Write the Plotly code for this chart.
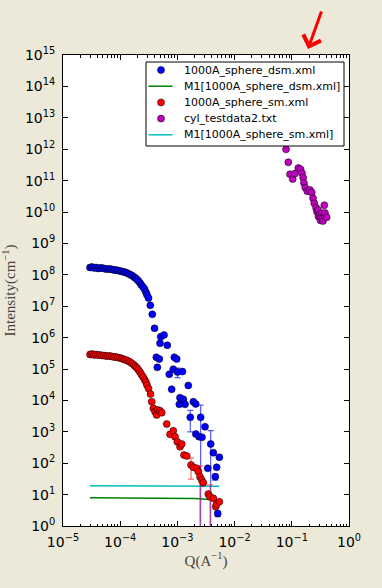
import plotly.graph_objects as go

# ---------------- data ----------------
# 1000A_sphere_dsm.xml
dsm_q = [2.96e-5, 3.21e-5, 3.48e-5, 3.78e-5, 4.10e-5, 4.44e-5, 4.81e-5, 5.21e-5, 5.65e-5, 6.13e-5,
         6.64e-5, 7.20e-5, 7.80e-5, 8.46e-5, 9.17e-5, 9.93e-5, 1.074e-4, 1.164e-4, 1.262e-4, 1.368e-4,
         1.483e-4, 1.607e-4, 1.742e-4, 1.849e-4, 1.968e-4, 2.09e-4, 2.22e-4, 2.35e-4, 2.51e-4, 2.66e-4,
         2.82e-4, 2.94e-4, 3.13e-4, 3.36e-4, 3.64e-4, 3.98e-4, 4.28e-4, 4.46e-4, 4.83e-4, 4.97e-4,
         5.11e-4, 5.84e-4, 6.65e-4, 7.21e-4, 7.94e-4, 8.47e-4, 8.83e-4, 9.73e-4, 1.005e-3, 1.08e-3,
         1.11e-3, 1.227e-3, 1.27e-3, 1.36e-3, 1.55e-3, 1.68e-3, 1.90e-3, 2.09e-3, 2.10e-3, 2.39e-3,
         2.55e-3, 2.69e-3, 3.04e-3, 3.39e-3, 3.82e-3, 4.25e-3, 4.60e-3, 4.86e-3, 5.07e-3, 5.41e-3]
dsm_i = [1.71e8, 1.77e8, 1.65e8, 1.71e8, 1.59e8, 1.65e8, 1.65e8, 1.59e8, 1.53e8, 1.53e8,
         1.53e8, 1.48e8, 1.42e8, 1.42e8, 1.37e8, 1.32e8, 1.27e8, 1.23e8, 1.18e8, 1.10e8,
         1.02e8, 9.5e7, 8.5e7, 7.9e7, 7.1e7, 6.35e7, 5.5e7, 4.7e7, 4.1e7, 3.5e7,
         2.8e7, 2.3e7, 1.82e7, 1.07e7, 5.5e6, 1.98e6, 2.36e5, 1.13e5, 2.08e5, 6.6e5,
         1.07e6, 1.21e6, 5.7e5, 6.8e4, 2.26e4, 9.8e4, 2.36e5, 2.08e5, 8.0e4, 7.5e3,
         1.22e4, 8.3e4, 1.08e4, 7.5e3, 3.0e4, 2.9e3, 9.1e3, 7.7e3, 8.5e2, 7.0e2,
         2.9e3, 6.7e2, 1.45e3, 69, 4.1e2, 2.16e2, 37, 74, 2.5, 1.54e2]
dsm_err = [0] * 48 + [2.7e4] + [0] * 6 + [1.9e3] + [0] * 4 + [4.2e3] + [0] * 3 + [6.8e2, 0, 8, 0, 0.5, 0]

# 1000A_sphere_sm.xml
sm_q = [2.96e-5, 3.21e-5, 3.48e-5, 3.78e-5, 4.10e-5, 4.44e-5, 4.81e-5, 5.21e-5, 5.65e-5, 6.13e-5,
        6.64e-5, 7.20e-5, 7.80e-5, 8.46e-5, 9.17e-5, 9.93e-5, 1.074e-4, 1.164e-4, 1.262e-4, 1.368e-4,
        1.483e-4, 1.607e-4, 1.742e-4, 1.849e-4, 1.968e-4, 2.09e-4, 2.22e-4, 2.35e-4, 2.51e-4, 2.66e-4,
        2.82e-4, 2.94e-4, 3.13e-4, 3.39e-4, 3.56e-4, 3.80e-4, 4.06e-4, 4.35e-4, 4.53e-4, 4.97e-4,
        5.32e-4, 6.50e-4, 7.43e-4, 8.47e-4, 9.08e-4, 9.96e-4, 1.11e-3, 1.19e-3, 1.30e-3, 1.46e-3,
        1.73e-3, 1.90e-3, 2.17e-3, 2.32e-3, 2.48e-3, 2.66e-3, 2.84e-3, 3.47e-3, 3.72e-3, 4.25e-3,
        4.68e-3, 4.86e-3, 5.41e-3]
sm_i = [2.90e5, 3.00e5, 2.79e5, 2.90e5, 2.79e5, 2.79e5, 2.69e5, 2.69e5, 2.59e5, 2.59e5,
        2.59e5, 2.50e5, 2.41e5, 2.41e5, 2.32e5, 2.24e5, 2.16e5, 2.01e5, 1.94e5, 1.80e5,
        1.67e5, 1.50e5, 1.34e5, 1.20e5, 1.08e5, 9.3e4, 8.0e4, 6.7e4, 5.6e4, 4.6e4,
        3.85e4, 3.09e4, 2.39e4, 1.60e4, 9.1e3, 5.6e3, 4.37e3, 3.43e3, 4.95e3, 4.70e3,
        4.06e3, 1.77e3, 8.3e2, 1.08e3, 7.0e2, 4.8e2, 3.35e2, 4.1e2, 1.82e2, 1.70e2,
        88, 74, 69, 54, 37, 29, 24, 10.4, 8.6, 7.6,
        4.1, 5.0, 5.9]
sm_err = [0] * 50 + [57, 0, 0, 0, 45, 0, 0, 0, 12, 0, 0, 0, 0]

# cyl_testdata2.txt
cyl_q = [0.0793, 0.0869, 0.0931, 0.1038, 0.1138, 0.130, 0.142, 0.1507, 0.158, 0.163,
         0.1714, 0.1866, 0.208, 0.223, 0.235, 0.247, 0.265, 0.276, 0.287, 0.293,
         0.303, 0.318, 0.324, 0.333, 0.348, 0.351, 0.370, 0.373, 0.380, 0.407]
cyl_i = [9.9e11, 3.83e11, 1.59e11, 1.12e11, 1.68e11, 2.52e11, 2.31e11, 1.75e11, 1.24e11, 8.4e10,
         6.0e10, 4.6e10, 5.0e10, 4.2e10, 2.73e10, 1.89e10, 1.37e10, 1.02e10, 1.16e10, 7.2e9,
         8.2e9, 5.4e9, 6.9e9, 9.1e9, 6.3e9, 5.2e9, 1.65e10, 7.5e9, 9.3e9, 6.8e9]

# M1 model curves
m1_dsm_q = [2.96e-5, 1e-4, 3e-4, 6e-4, 1e-3, 1.5e-3, 2e-3, 2.5e-3, 3e-3, 3.6e-3]
m1_dsm_i = [7.95, 7.95, 7.94, 7.9, 7.8, 7.7, 7.55, 7.4, 7.2, 7.0]
m1_sm_q = [2.96e-5, 1e-4, 3e-4, 1e-3, 2e-3, 3e-3, 4e-3, 5.4e-3]
m1_sm_i = [19.3, 19.3, 19.3, 19.2, 19.1, 19.0, 18.8, 18.6]

x_exponents = [-5, -4, -3, -2, -1, 0]
y_exponents = list(range(0, 16))

# legend entries, in the reference order
legend_names = ["1000A_sphere_dsm.xml", "M1[1000A_sphere_dsm.xml]", "1000A_sphere_sm.xml",
                "cyl_testdata2.txt", "M1[1000A_sphere_sm.xml]"]
legend_colors = ["#0000FF", "#008000", "#FF0000", "#BF00BF", "#00BFBF"]
legend_kinds = ["marker", "line", "marker", "marker", "line"]

# ---------------- figure ----------------
W, H = 382, 588
ML, MR, MT, MB = 63, 33, 55, 62
PW, PH = W - ML - MR, H - MT - MB


def px_x(p):  # pixel column -> paper x
    return (p - ML) / PW


def px_y(p):  # pixel row -> paper y
    return (H - MB - p) / PH


def sup_label(e):
    return "10<sup>" + (("\u2212" + str(-e)) if e < 0 else str(e)) + "</sup>"


edge = dict(color="rgba(0,0,0,0.75)", width=0.7)
fig = go.Figure()

fig.add_trace(go.Scatter(x=m1_dsm_q, y=m1_dsm_i, mode="lines", name=legend_names[1],
                         line=dict(color=legend_colors[1], width=1.5), showlegend=False))
fig.add_trace(go.Scatter(x=m1_sm_q, y=m1_sm_i, mode="lines", name=legend_names[4],
                         line=dict(color=legend_colors[4], width=1.5), showlegend=False))
fig.add_trace(go.Scatter(x=dsm_q, y=dsm_i, mode="markers", name=legend_names[0],
                         marker=dict(color=legend_colors[0], size=7, line=edge),
                         error_y=dict(type="data", array=dsm_err, visible=True,
                                      color="rgba(30,30,255,0.75)", thickness=1.2, width=3),
                         showlegend=False))
fig.add_trace(go.Scatter(x=sm_q, y=sm_i, mode="markers", name=legend_names[2],
                         marker=dict(color=legend_colors[2], size=7, line=edge),
                         error_y=dict(type="data", array=sm_err, visible=True,
                                      color="rgba(255,40,40,0.7)", thickness=1.2, width=3),
                         showlegend=False))
fig.add_trace(go.Scatter(x=cyl_q, y=cyl_i, mode="markers", name=legend_names[3],
                         marker=dict(color=legend_colors[3], size=7, line=edge), showlegend=False))

axis_common = dict(type="log", showline=True, linecolor="black", linewidth=1, mirror="allticks",
                   ticks="inside", ticklen=5, tickcolor="black", showgrid=False, zeroline=False,
                   automargin=False,
                   tickfont=dict(family="DejaVu Sans", size=14, color="black"))

fig.update_xaxes(**axis_common, range=[-5, 0], tickmode="array",
                 tickvals=[10.0 ** e for e in x_exponents],
                 ticktext=[sup_label(e) for e in x_exponents],
                 ticklabelstandoff=3,
                 minor=dict(ticks="inside", ticklen=2.5, tickcolor="black", tickmode="array",
                            tickvals=[m * 10.0 ** e for e in x_exponents[:-1] for m in range(2, 10)]),
                 title=dict(text="Q(A<sup>\u22121</sup>)", standoff=6,
                            font=dict(family="Liberation Serif", size=15, color="#444444")))
fig.update_yaxes(**axis_common, range=[0, 15], tickmode="array",
                 tickvals=[10.0 ** e for e in y_exponents],
                 ticktext=[sup_label(e) for e in y_exponents],
                 ticklabelstandoff=4,
                 title=dict(text="Intensity(cm<sup>\u22121</sup>)", standoff=6,
                            font=dict(family="Liberation Serif", size=15, color="#444444")))

# ---- legend box (drawn by hand to match the compact row spacing) ----
shapes = [dict(type="rect", xref="paper", yref="paper", x0=px_x(146), x1=px_x(344),
               y0=px_y(146), y1=px_y(62), fillcolor="white", line=dict(color="black", width=1),
               layer="above")]
row0, row_step = 70.0, 16.2
for k, (name, col, kind) in enumerate(zip(legend_names, legend_colors, legend_kinds)):
    ry = px_y(row0 + k * row_step)
    if kind == "line":
        shapes.append(dict(type="line", xref="paper", yref="paper", x0=px_x(148.5), x1=px_x(172.5),
                           y0=ry, y1=ry, line=dict(color=col, width=1.5), layer="above"))
    else:
        shapes.append(dict(type="circle", xref="paper", yref="paper", xsizemode="pixel",
                           ysizemode="pixel", xanchor=px_x(161), yanchor=ry,
                           x0=-3.5, x1=3.5, y0=-3.5, y1=3.5, fillcolor=col,
                           line=dict(color="rgba(0,0,0,0.75)", width=0.7), layer="above"))
    fig.add_annotation(xref="paper", yref="paper", x=px_x(182), y=ry, xanchor="left",
                       yanchor="middle", text=name, showarrow=False,
                       font=dict(family="DejaVu Sans", size=11, color="black"))

fig.add_annotation(xref="paper", yref="paper", x=px_x(308), y=px_y(49), ax=14, ay=-39,
                   text="", showarrow=True, arrowhead=4, arrowsize=1.2, arrowwidth=3,
                   arrowcolor="#FF0000", standoff=0)

fig.update_layout(
    width=W, height=H, autosize=False,
    margin=dict(l=ML, r=MR, t=MT, b=MB),
    paper_bgcolor="#ECE9D8", plot_bgcolor="white",
    shapes=shapes,
    showlegend=False,
)

fig.write_html("out.html",
               config={"displayModeBar": False},
               post_script="document.body.style.margin='0';"
                           "document.body.style.background='#ECE9D8';")
